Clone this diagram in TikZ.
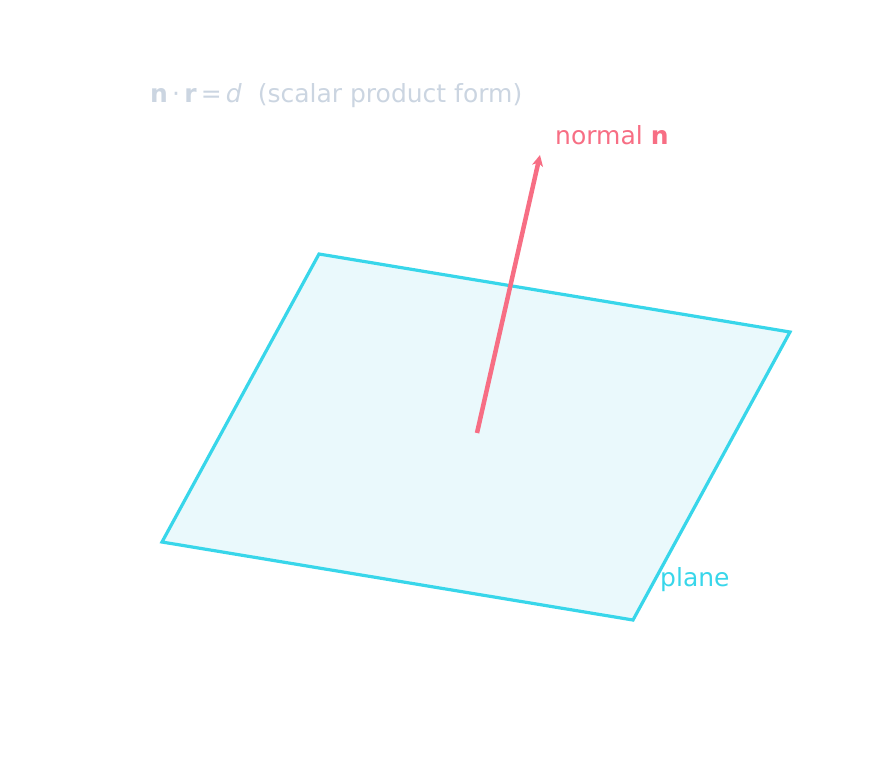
\documentclass[tikz,border=0pt]{standalone}
\usepackage{fontspec}
\setmainfont{DejaVu Sans}
\usetikzlibrary{arrows.meta}
\definecolor{planecol}{HTML}{38D6EA}
\definecolor{planefill}{HTML}{EAF9FC}
\definecolor{normcol}{HTML}{F76E84}
\definecolor{notecol}{HTML}{CBD5E1}
\begin{document}
\begin{tikzpicture}[x=1pt,y=-1pt]
    \tikzstyle{lbl}=[font=\fontsize{25}{30}\selectfont,inner sep=0pt]
    \tikzstyle{edge}=[draw=planecol,line width=3.2pt,fill=planefill,line join=miter]
    \tikzstyle{vec}=[draw=normcol,line width=4.5pt,-{Stealth[length=11pt,width=11pt,inset=3pt]}]

    \useasboundingbox (0,0) rectangle (886,756);

    \coordinate (back) at (319,254);
    \coordinate (right) at (790,332);
    \coordinate (front) at (633,620);
    \coordinate (left) at (162,542);
    \coordinate (foot) at (477,433);
    \coordinate (tip) at (540,155);

    \draw [edge] (back) -- (right) -- (front) -- (left) -- cycle;
    \draw [vec] (foot) -- (tip);

    \node[lbl,text=normcol,anchor=west] (nlabel) at (555,135) {normal \textbf{n}};
    \node[lbl,text=planecol,anchor=west] (plabel) at (660,580) {plane};
    \node[lbl,text=notecol,anchor=west] (eq) at (150,96)
        {\textbf{n}\,·\,\textbf{r}\,=\,\textit{d}\ \ (scalar product form)};
\end{tikzpicture}
\end{document}
